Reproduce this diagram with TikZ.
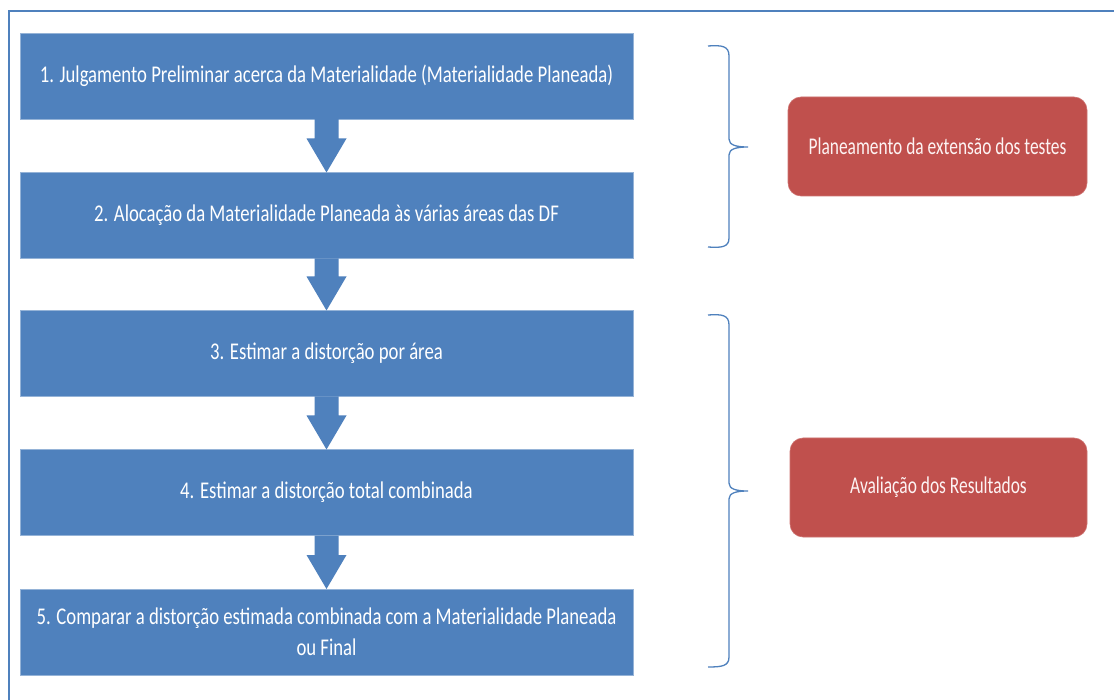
\documentclass[tikz,border=0pt]{standalone}
\usepackage{fontspec}
\setmainfont{Carlito}[FakeStretch=0.78]
\newfontfamily\phasefont{Carlito}[FakeStretch=0.725]
\usetikzlibrary{calc}
\definecolor{cblue}{HTML}{4F81BD}
\definecolor{cred}{HTML}{C0504D}
\definecolor{ctext}{HTML}{FDF3F3}
\tikzset{
  stepbox/.style={fill=cblue, draw=cblue!60!white, line width=0.6pt, minimum width=613pt, minimum height=86pt, inner sep=0pt, outer sep=0pt, text=white, align=center, font=\fontsize{24}{31}\selectfont},
  phasebox/.style={fill=cred, draw=cred!80!white, line width=0.6pt, rounded corners=13pt, minimum height=99pt, inner sep=0pt, outer sep=0pt, text=ctext, align=center, font=\phasefont\fontsize{24}{31}\selectfont},
  blockarrow/.style={fill=cblue},
  bracestyle/.style={draw=cblue, line width=1.3pt},
}
\begin{document}
\begin{tikzpicture}[x=1pt, y=-1pt]
\useasboundingbox (0,0) rectangle (1114,700);
\fill[white] (0,0) rectangle (1114,700);
\draw[cblue, line width=1.5pt] (9,700) -- (9,11) -- (1114,11);

\node[stepbox] (b1) at (326.5,76) {1. Julgamento Preliminar acerca da Materialidade (Materialidade Planeada)};
\node[stepbox] (b2) at (326.5,215.5) {2. Alocação da Materialidade Planeada às várias áreas das DF};
\node[stepbox] (b3) at (326.5,353.5) {3. Estimar a distorção por área};
\node[stepbox] (b4) at (326.5,492.5) {4. Estimar a distorção total combinada};
\node[stepbox] (b5) at (326.5,632) {5. Comparar a distorção estimada combinada com a Materialidade Planeada\\ou Final};

\foreach \a/\b in {b1/b2,b2/b3,b3/b4,b4/b5}
  \fill[blockarrow] ($(\a.south)+(-12,0)$) -- ($(\a.south)+(12,0)$) -- ($(\b.north)+(12,-34)$) -- ($(\b.north)+(20,-34)$) -- (\b.north) -- ($(\b.north)+(-20,-34)$) -- ($(\b.north)+(-12,-34)$) -- cycle;

\node[phasebox, minimum width=299pt] (r1) at (937.5,146.5) {Planeamento da extensão dos testes};
\node[phasebox, minimum width=297pt] (r2) at (938.5,487.5) {Avaliação dos Resultados};

\draw[bracestyle] (708,46) .. controls (722,45) and (729,46) .. (729,56) -- (729,139) .. controls (729,145) and (736,147) .. (748,147) .. controls (736,147) and (729,149) .. (729,155) -- (729,238) .. controls (729,247) and (722,248) .. (708,247);
\draw[bracestyle] (708,315) .. controls (722,314) and (729,315) .. (729,325) -- (729,483) .. controls (729,489) and (736,491) .. (748,491) .. controls (736,491) and (729,493) .. (729,499) -- (729,657) .. controls (729,666) and (722,667) .. (708,667);
\end{tikzpicture}
\end{document}
